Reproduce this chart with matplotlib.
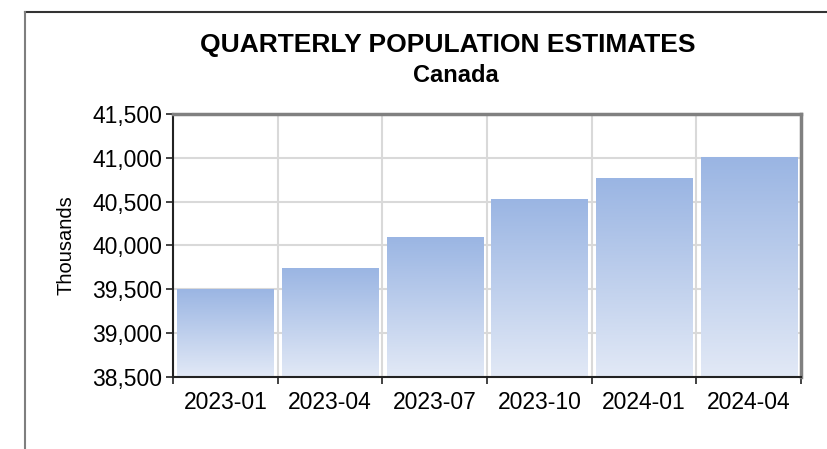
import matplotlib
matplotlib.use("Agg")
import matplotlib.pyplot as plt
import numpy as np
from matplotlib.colors import LinearSegmentedColormap
from matplotlib.lines import Line2D

plt.rcParams['font.family'] = ['Liberation Sans', 'DejaVu Sans']

# quarterly population, thousands
quarters = ['2023-01', '2023-04', '2023-07', '2023-10', '2024-01', '2024-04']
population = [39508, 39747, 40102, 40531, 40765, 41008]
y_ticks = [38500, 39000, 39500, 40000, 40500, 41000, 41500]

fig = plt.figure(figsize=(8.27, 4.49), dpi=100)
ax = fig.add_axes([0.2092, 0.1604, 0.7594, 0.5857])

# outer frame (top and left edges only visible)
W, H = 827, 449
fig.add_artist(Line2D([25 / W, 1], [1 - 12 / H, 1 - 12 / H], transform=fig.transFigure,
                      color='#333333', lw=1.5))
fig.add_artist(Line2D([25 / W, 25 / W], [1 - 12 / H, 0], transform=fig.transFigure,
                      color='#7f7f7f', lw=1.5))

x = np.arange(len(quarters))
bars = ax.bar(x, population, width=0.92, color='none', zorder=2)

grad = LinearSegmentedColormap.from_list('g', ['#e2e9f6', '#9ab5e3'])
img = np.linspace(0, 1, 256).reshape(-1, 1)
for b in bars:
    x0, w, h = b.get_x(), b.get_width(), b.get_height()
    im = ax.imshow(img, cmap=grad, origin='lower', aspect='auto',
                   extent=[x0, x0 + w, y_ticks[0], h], zorder=2)
    im.set_clip_path(b)
ax.set_xlim(-0.5, len(quarters) - 0.5)
ax.set_ylim(y_ticks[0], y_ticks[-1])

ax.set_yticks(y_ticks)
ax.set_yticklabels([f'{v:,}' for v in y_ticks], fontsize=16.5)
ax.set_xticks(x)
ax.set_xticklabels(quarters, fontsize=16.5)
ax.tick_params(axis='x', length=0, pad=10)
ax.set_xticks(np.arange(-0.5, len(quarters)), minor=True)
ax.tick_params(axis='x', which='minor', length=5, width=1.2, color='#222222')
ax.tick_params(axis='y', length=5, width=1.2, color='#222222', pad=3)

ax.grid(axis='y', color='#d9d9d9', lw=1.5, zorder=0)
ax.grid(axis='x', which='minor', color='#d9d9d9', lw=1.5, zorder=0)
ax.set_axisbelow(True)

for s in ['left', 'bottom']:
    ax.spines[s].set_color('#222222')
    ax.spines[s].set_linewidth(1.5)
for s in ['top', 'right']:
    ax.spines[s].set_color('#808080')
    ax.spines[s].set_linewidth(2.5)

ax.set_ylabel('Thousands', fontsize=14.5, labelpad=12)

fig.text(0.541, 1 - 45 / H, 'QUARTERLY POPULATION ESTIMATES', ha='center', va='center',
         fontsize=19, fontweight='bold')
fig.text(0.551, 1 - 75 / H, 'Canada', ha='center', va='center',
         fontsize=17, fontweight='bold')

fig.savefig('out.png', dpi=100)
